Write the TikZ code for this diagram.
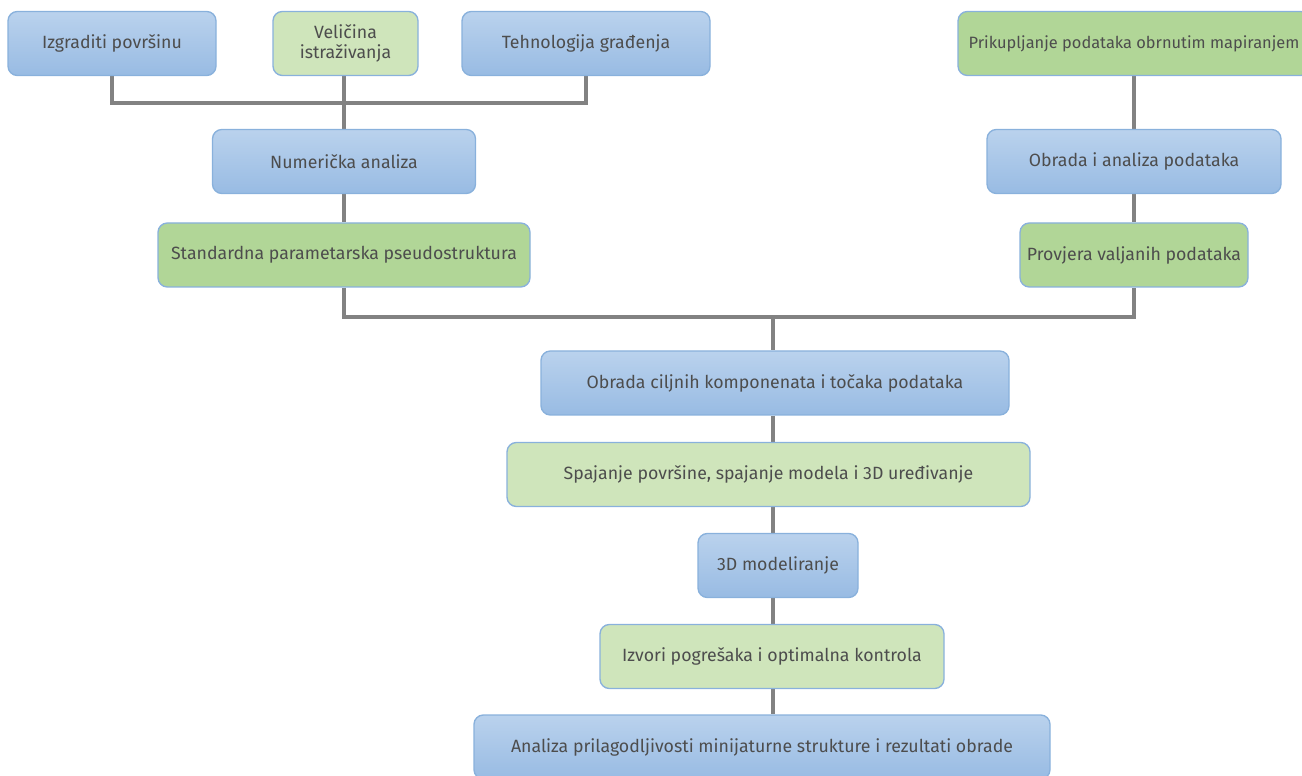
\documentclass[tikz,border=0pt]{standalone}
\usepackage{fontspec}
\setmainfont{Fira Sans}
\usepackage{tikz}
\usetikzlibrary{positioning,calc,backgrounds}
\definecolor{bluetop}{RGB}{186,210,237}
\definecolor{bluebot}{RGB}{152,187,227}
\definecolor{boxedge}{RGB}{137,177,220}
\definecolor{dkgreen}{RGB}{177,214,151}
\definecolor{ltgreen}{RGB}{207,229,187}
\definecolor{linegray}{RGB}{130,130,130}
\definecolor{txtgray}{RGB}{77,77,77}

\begin{document}
\begin{tikzpicture}[x=0.75pt,y=0.75pt,
    box/.style={draw=boxedge,line width=1pt,rounded corners=7pt,
                minimum height=48pt,inner sep=2pt,align=center,
                text=txtgray,font=\fontsize{13.3}{15}\selectfont},
    bluebox/.style={box,top color=bluetop,bottom color=bluebot},
    greenbox/.style={box,fill=dkgreen},
    lightbox/.style={box,fill=ltgreen},
    conn/.style={draw=linegray,line width=2.7pt}]
  \useasboundingbox (0,0) rectangle (1302,775);
  \clip (0,0) rectangle (1302,775);
  % top row
  \node[bluebox,minimum width=156pt] (izg) at (112,731.5) {Izgraditi površinu};
  \node[lightbox,minimum width=108.75pt] (vel) at (345.5,731.5) {Veličina\\istraživanja};
  \node[bluebox,minimum width=186pt] (teh) at (586,731.5) {Tehnologija građenja};
  \node[greenbox,minimum width=264pt,font=\fontsize{12.3}{14}\selectfont] (pri) at (1134,731.5)
    {Prikupljanje podataka obrnutim mapiranjem};
  % left branch
  \node[bluebox,minimum width=197.25pt] (num) at (344,613.5) {Numerička analiza};
  \node[greenbox,minimum width=279pt] (std) at (344,520) {Standardna parametarska pseudostruktura};
  % right branch
  \node[bluebox,minimum width=220.5pt] (oap) at (1134,613.5) {Obrada i analiza podataka};
  \node[greenbox,minimum width=171pt] (pro) at (1134,520) {Provjera valjanih podataka};
  % trunk
  \node[bluebox,minimum width=351pt] (ock) at (775,392) {Obrada ciljnih komponenata i točaka podataka};
  \node[lightbox,minimum width=392.25pt] (spa) at (768.5,300.5) {Spajanje površine, spajanje modela i 3D uređivanje};
  \node[bluebox,minimum width=120pt] (mod) at (778,209.5) {3D modeliranje};
  \node[lightbox,minimum width=258pt] (izv) at (772,118.5) {Izvori pogrešaka i optimalna kontrola};
  \node[bluebox,minimum width=432pt] (ana) at (762,28) {Analiza prilagodljivosti minijaturne strukture i rezultati obrade};
  \coordinate (tj) at (344,672);
  \coordinate (bj) at (773,458);
  \begin{scope}[on background layer]
    \draw[conn] (izg.south) |- (tj) -| (teh.south);
    \draw[conn] (vel.south -| tj) -- (num.north);
    \draw[conn] (num.south) -- (std.north);
    \draw[conn] (pri.south) -- (oap.north);
    \draw[conn] (oap.south) -- (pro.north);
    \draw[conn] (std.south) |- (bj) -| (pro.south);
    \draw[conn] (bj) -- (bj |- ock.north);
    \draw[conn] (ock.south -| bj) -- (spa.north -| bj);
    \draw[conn] (spa.south -| bj) -- (mod.north -| bj);
    \draw[conn] (mod.south -| bj) -- (izv.north -| bj);
    \draw[conn] (izv.south -| bj) -- (ana.north -| bj);
  \end{scope}
\end{tikzpicture}
\end{document}
